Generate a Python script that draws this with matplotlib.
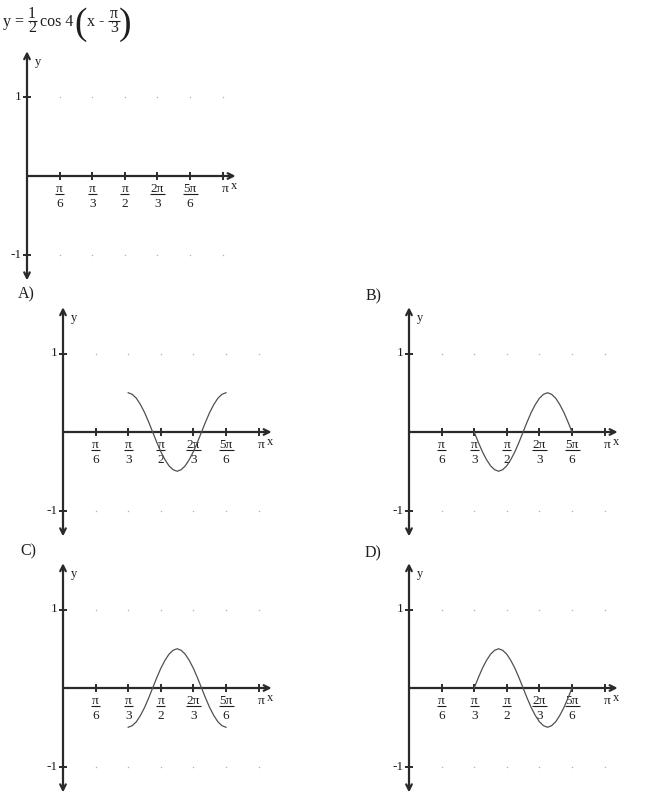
import numpy as np
import matplotlib
matplotlib.use("Agg")
import matplotlib.pyplot as plt

plt.rcParams['font.family'] = ['Liberation Serif', 'DejaVu Serif']

# x ticks, in multiples of pi/6, labelled as fractions (numerator, denominator)
tick_steps = [1, 2, 3, 4, 5, 6]
tick_labels = [('π', '6'), ('π', '3'), ('π', '2'), ('2π', '3'), ('5π', '6'), ('π', '')]
y_ticks = [1, -1]
y_tick_labels = ['1', '-1']

# curve samples, x in multiples of pi/48 (pi/3 .. 5pi/6)
x_steps = [16, 17, 18, 19, 20, 21, 22, 23, 24, 25, 26, 27, 28,
           29, 30, 31, 32, 33, 34, 35, 36, 37, 38, 39, 40]
curve_a = [0.5, 0.48, 0.43, 0.35, 0.25, 0.13, 0, -0.13, -0.25, -0.35, -0.43, -0.48, -0.5,
           -0.48, -0.43, -0.35, -0.25, -0.13, 0, 0.13, 0.25, 0.35, 0.43, 0.48, 0.5]
curve_b = [0, -0.13, -0.25, -0.35, -0.43, -0.48, -0.5, -0.48, -0.43, -0.35, -0.25, -0.13, 0,
           0.13, 0.25, 0.35, 0.43, 0.48, 0.5, 0.48, 0.43, 0.35, 0.25, 0.13, 0]
curve_c = [-0.5, -0.48, -0.43, -0.35, -0.25, -0.13, 0, 0.13, 0.25, 0.35, 0.43, 0.48, 0.5,
           0.48, 0.43, 0.35, 0.25, 0.13, 0, -0.13, -0.25, -0.35, -0.43, -0.48, -0.5]
curve_d = [0, 0.13, 0.25, 0.35, 0.43, 0.48, 0.5, 0.48, 0.43, 0.35, 0.25, 0.13, 0,
           -0.13, -0.25, -0.35, -0.43, -0.48, -0.5, -0.48, -0.43, -0.35, -0.25, -0.13, 0]

panel_names = ['', 'A)', 'B)', 'C)', 'D)']
panel_curves = [None, curve_a, curve_b, curve_c, curve_d]

W, H = 650, 800
PT = 0.72  # points per pixel at dpi 100
TXT = '#1e1e1e'
AX_COL = '#2a2a2a'

fig = plt.figure(figsize=(W / 100, H / 100), dpi=100)


def frac(ax, x, y, num, den, fs, bar_px, num_px, barpos_px, den_px):
    # stacked fraction anchored at (x, y) in data coords, offsets in pixels downward
    kw = dict(xy=(x, y), textcoords='offset points', ha='center', va='baseline',
              fontsize=fs, color=TXT, annotation_clip=False)
    ax.annotate(num, xytext=(0, -num_px * PT), **kw)
    ax.annotate(den, xytext=(0, -den_px * PT), **kw)
    px0 = ax.transData.transform((x, y))
    inv = ax.transData.inverted()
    a = inv.transform((px0[0] - bar_px / 2, px0[1] - barpos_px))
    b = inv.transform((px0[0] + bar_px / 2, px0[1] - barpos_px))
    ax.plot([a[0], b[0]], [a[1], b[1]], color=TXT, lw=0.8, solid_capstyle='butt',
            clip_on=False)


# title drawn piece by piece on an overlay in pixel coordinates
tax = fig.add_axes([0, 0, 1, 1])
tax.set_xlim(0, W)
tax.set_ylim(H, 0)
tax.axis('off')
tax.patch.set_alpha(0)
tfs = 11.5
base = 26
tax.text(3, base, 'y =', fontsize=tfs, ha='left', va='baseline', color=TXT)
frac(tax, 32, base, '1', '2', tfs, 9, -8, -5, 6.5)
tax.text(40, base, 'cos 4', fontsize=tfs, ha='left', va='baseline', color=TXT)
tax.text(80.5, 25, '(', fontsize=27, ha='center', va='center', color=TXT)
tax.text(87, base, 'x', fontsize=tfs, ha='left', va='baseline', color=TXT)
tax.text(101, 21.5, '-', fontsize=tfs, ha='center', va='center', color=TXT)
frac(tax, 114, base, 'π', '3', tfs, 12, -8, -5, 6.5)
tax.text(125.5, 25, ')', fontsize=27, ha='center', va='center', color=TXT)

# layout in pixels: origin of each graph, and label position
origins = [(27, 176), (63, 432), (409, 432), (63, 688), (409, 688)]
label_pos = [None, (18, 294), (366, 296), (20, 551), (365, 553)]
SX = 32.6 * 6 / np.pi   # px per radian
SY = 78.5               # px per unit
X0, X1, Y0, Y1 = -0.6, 3.9, -1.7, 1.9

for name, curve, (ox, oy), lp in zip(panel_names, panel_curves, origins, label_pos):
    left = ox + X0 * SX
    right = ox + X1 * SX
    top = oy - Y1 * SY
    bottom = oy - Y0 * SY
    ax = fig.add_axes([left / W, 1 - bottom / H, (right - left) / W, (bottom - top) / H])
    ax.set_xlim(X0, X1)
    ax.set_ylim(Y0, Y1)
    ax.axis('off')
    ax.patch.set_alpha(0)

    xt = np.array(tick_steps) * np.pi / 6

    # faint grid dots
    gx, gy = np.meshgrid(xt, y_ticks)
    ax.scatter(gx.ravel(), gy.ravel(), s=1.2, color='#b5b5b5', lw=0, zorder=1)

    # axes with arrows
    ax.annotate('', xy=(0, 1.59), xytext=(0, -1.33),
                arrowprops=dict(arrowstyle='<->', lw=1.6, color=AX_COL,
                                shrinkA=0, shrinkB=0, mutation_scale=10))
    ax.annotate('', xy=(np.pi + 0.21, 0), xytext=(0, 0),
                arrowprops=dict(arrowstyle='->', lw=1.6, color=AX_COL,
                                shrinkA=0, shrinkB=0, mutation_scale=10))

    # ticks
    dy = 4 / SY
    dx = 4 / SX
    for x in xt:
        ax.plot([x, x], [-dy, dy], color=AX_COL, lw=1.4, solid_capstyle='butt')
    for y in y_ticks:
        ax.plot([-dx, dx], [y, y], color=AX_COL, lw=1.4, solid_capstyle='butt')

    for x, (num, den) in zip(xt, tick_labels):
        if den:
            frac(ax, x, 0, num, den, 9.5, 6 * len(num) + 3, 16, 18, 31)
        else:
            ax.annotate(num, xy=(x, 0), xytext=(3 * PT, -16 * PT), textcoords='offset points',
                        ha='center', va='baseline', fontsize=9.5, color=TXT)
    for y, lab in zip(y_ticks, y_tick_labels):
        ax.text(-5 / SX, y, lab, fontsize=9.5, ha='right', va='center', color=TXT)

    ax.text(8 / SX, 114 / SY, 'y', fontsize=9, ha='left', va='center', color=TXT)
    ax.text(204 / SX, -10 / SY, 'x', fontsize=9, ha='left', va='center', color=TXT)

    if curve is not None:
        xs = np.array(x_steps) * np.pi / 48
        ax.plot(xs, curve, color='#505050', lw=0.9, zorder=3)
        fig.text(lp[0] / W, 1 - lp[1] / H, name, fontsize=11.5, ha='left', va='center',
                 color=TXT)

fig.savefig('out.png', dpi=100)
